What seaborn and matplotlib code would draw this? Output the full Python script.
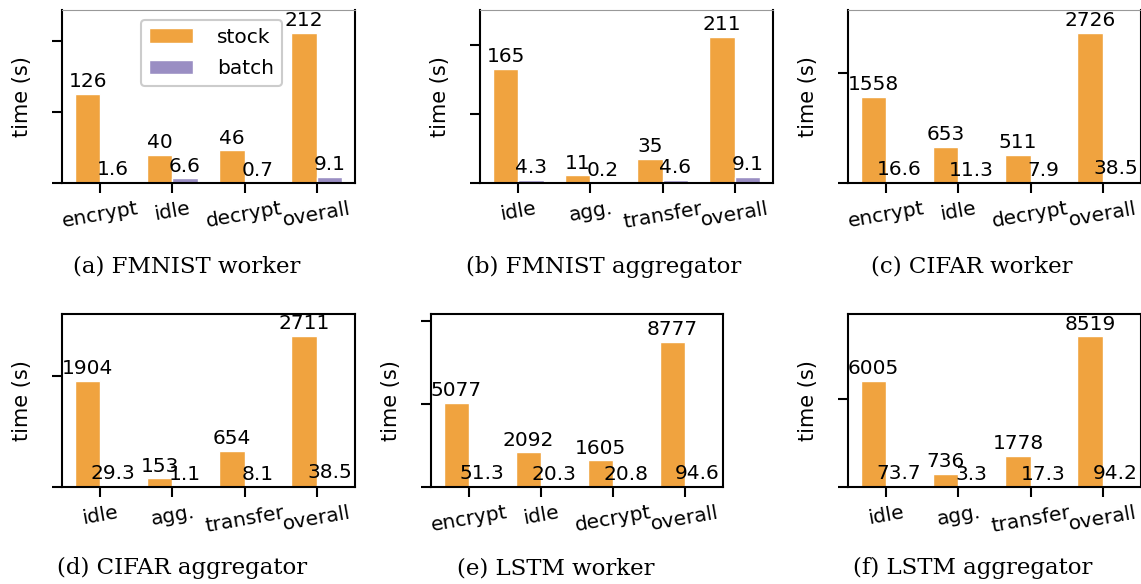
import matplotlib
matplotlib.use("Agg")
import matplotlib.pyplot as plt
import seaborn as sns
import pandas as pd

# ---- data ----
worker_cats = ["encrypt", "idle", "decrypt", "overall"]
agg_cats = ["idle", "agg.", "transfer", "overall"]

fmnist_worker_stock = [126, 40, 46, 212]
fmnist_worker_batch = [1.6, 6.6, 0.7, 9.1]
fmnist_agg_stock = [165, 11, 35, 211]
fmnist_agg_batch = [4.3, 0.2, 4.6, 9.1]
cifar_worker_stock = [1558, 653, 511, 2726]
cifar_worker_batch = [16.6, 11.3, 7.9, 38.5]
cifar_agg_stock = [1904, 153, 654, 2711]
cifar_agg_batch = [29.3, 1.1, 8.1, 38.5]
lstm_worker_stock = [5077, 2092, 1605, 8777]
lstm_worker_batch = [51.3, 20.3, 20.8, 94.6]
lstm_agg_stock = [6005, 736, 1778, 8519]
lstm_agg_batch = [73.7, 3.3, 17.3, 94.2]

captions = ["(a) FMNIST worker", "(b) FMNIST aggregator", "(c) CIFAR worker",
            "(d) CIFAR aggregator", "(e) LSTM worker", "(f) LSTM aggregator"]
series_names = ["stock", "batch"]

panels = [
    (worker_cats, fmnist_worker_stock, fmnist_worker_batch, [0, 100, 200], 244),
    (agg_cats, fmnist_agg_stock, fmnist_agg_batch, [0, 100, 200], 250),
    (worker_cats, cifar_worker_stock, cifar_worker_batch, [0, 2000], 3140),
    (agg_cats, cifar_agg_stock, cifar_agg_batch, [0, 2000], 3110),
    (worker_cats, lstm_worker_stock, lstm_worker_batch, [0, 5000, 10000], 10450),
    (agg_cats, lstm_agg_stock, lstm_agg_batch, [0, 5000], 9790),
]

# ---- style ----
sns.set_theme(style="ticks")
plt.rcParams["font.family"] = ["DejaVu Sans"]
plt.rcParams["font.size"] = 14.5
plt.rcParams["text.color"] = "black"
plt.rcParams["axes.labelcolor"] = "black"
plt.rcParams["xtick.color"] = "black"
plt.rcParams["ytick.color"] = "black"
FS = 14.5
colors = {"stock": "#F0A33F", "batch": "#9A8EC3"}

W, H = 1141, 584
fig = plt.figure(figsize=(W / 100, H / 100), dpi=100)

# axes boxes in pixels: left, top, right, bottom
boxes = [
    (62, 10, 355, 183), (480, 10, 773, 183), (848, 10, 1141, 183),
    (62, 314, 355, 487), (431, 314, 723, 487), (848, 314, 1141, 487),
]
cap_pos = [(187, 267), (604, 267), (972, 267), (182, 568), (556, 568), (973, 568)]

for i, ((cats, stock, batch, yticks, ytop), box) in enumerate(zip(panels, boxes)):
    l, t, r, b = box
    ax = fig.add_axes([l / W, 1 - b / H, (r - l) / W, (b - t) / H])
    df = pd.DataFrame({
        "cat": cats * 2,
        "time": list(stock) + list(batch),
        "kind": ["stock"] * len(cats) + ["batch"] * len(cats),
    })
    sns.barplot(data=df, x="cat", y="time", hue="kind", order=cats,
                hue_order=series_names, palette=colors, width=0.7,
                saturation=1, ax=ax, legend=(i == 0))
    for cont, vals in zip(ax.containers, [stock, batch]):
        ax.bar_label(cont, labels=[f"{v:g}" for v in vals], padding=2,
                     fontsize=FS, color="black")
    ax.set_xlim(-0.53, 3.53)
    ax.set_ylim(0, ytop)
    ax.set_yticks(yticks)
    ax.tick_params(axis="y", labelleft=False, length=7, width=1.5, direction="out")
    ax.tick_params(axis="x", length=7, width=1.5, labelsize=FS, pad=4.5)
    for lab in ax.get_xticklabels():
        lab.set_rotation(10)
        lab.set_ha("center")
    ax.set_xlabel("")
    ax.set_ylabel("time (s)", fontsize=FS + 0.5)
    ax.yaxis.set_label_coords(-30 / (r - l), 0.5)
    for sp in ax.spines.values():
        sp.set_visible(True)
        sp.set_linewidth(1.5)
        sp.set_color("black")
    if i < 3:
        ax.spines["top"].set_color("#999999")
        ax.spines["top"].set_linewidth(0.8)
    if i == 0:
        leg = ax.get_legend()
        leg.remove()
        leg = ax.legend(loc="upper left", bbox_to_anchor=(0.268, 0.945),
                        borderaxespad=0, fontsize=FS, handlelength=2.2,
                        handletextpad=1.2, labelspacing=0.6, frameon=True,
                        fancybox=True, edgecolor="#cccccc", framealpha=1)
        leg.get_frame().set_linewidth(1.5)
    cx, cy = cap_pos[i]
    fig.text(cx / W, 1 - cy / H, captions[i], ha="center", va="center",
             fontsize=16.5, family=["DejaVu Serif"], color="black")

fig.savefig("out.png", dpi=100)
